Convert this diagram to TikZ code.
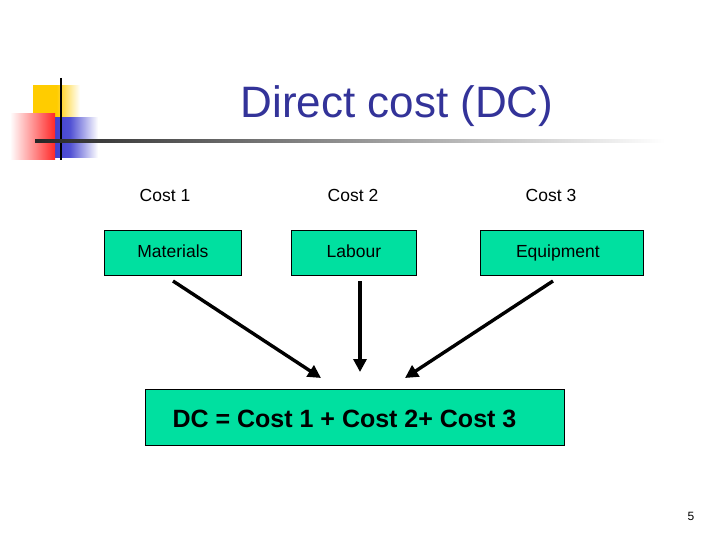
\documentclass[tikz,border=0pt]{standalone}
\usepackage{fontspec}
\setmainfont{Liberation Sans}
\usetikzlibrary{arrows.meta}
\definecolor{titleblue}{RGB}{51,51,153}
\definecolor{boxgreen}{RGB}{0,224,160}
\definecolor{decoyellow}{RGB}{255,204,0}
\definecolor{decored}{RGB}{255,40,40}
\definecolor{decoblue}{RGB}{51,51,204}
\tikzset{
  costbox/.style={draw=black, line width=0.8pt, fill=boxgreen, minimum height=45pt, font=\fontsize{17.5}{20}\selectfont, anchor=north west, inner sep=0pt, text height=12.5pt, text depth=3.5pt},
  costlabel/.style={font=\fontsize{17.5}{20}\selectfont},
  arr/.style={line width=3.4pt, -{Triangle[length=13pt,width=13pt]}},
}
\begin{document}
\begin{tikzpicture}[x=1pt,y=-1pt]
\useasboundingbox (0,0) rectangle (720,540);
% decoration
\shade[left color=decoyellow, right color=white, middle color=decoyellow] (33,86) rectangle (80,128);
\shade[left color=decoblue, right color=white, middle color=decoblue!85] (42,118) rectangle (98,158);
\shade[left color=white, right color=decored] (10,114) rectangle (55,160);
\draw[line width=2pt, black] (61,78) -- (61,160);
\shade[left color=black!85, right color=white] (35,140) rectangle (665,142.5);
% title
\node[text=titleblue, font=\fontsize{44}{48}\selectfont] (title) at (397,106) {Direct cost (DC)};
% labels
\node[costlabel] (c1) at (165,195) {Cost 1};
\node[costlabel] (c2) at (353,195) {Cost 2};
\node[costlabel] (c3) at (551,195) {Cost 3};
% boxes
\node[costbox, minimum width=137pt] (mat) at (104,230) {Materials};
\node[costbox, minimum width=125pt] (lab) at (291,230) {Labour};
\node[costbox, minimum width=163pt] (equ) at (480,230) {\hspace*{-8pt}Equipment};
\node[draw=black, line width=0.8pt, fill=boxgreen, minimum width=419pt, minimum height=56pt, anchor=north west, inner sep=0pt] (dc) at (145,389) {};
\node[anchor=west, font=\bfseries\fontsize{25}{28}\selectfont] (dctext) at (169,419) {DC = Cost 1 + Cost 2+ Cost 3};
% arrows
\coordinate (t1) at (321,378);
\coordinate (t2) at (360,372);
\coordinate (t3) at (405,378);
\coordinate (s1) at (173,281);
\coordinate (s2) at (360,281);
\coordinate (s3) at (553,281);
\draw[arr] (s1) -- (t1);
\draw[arr] (s2) -- (t2);
\draw[arr] (s3) -- (t3);
% page number
\node[font=\fontsize{12}{14}\selectfont] (pg) at (691,516) {5};
\end{tikzpicture}
\end{document}
